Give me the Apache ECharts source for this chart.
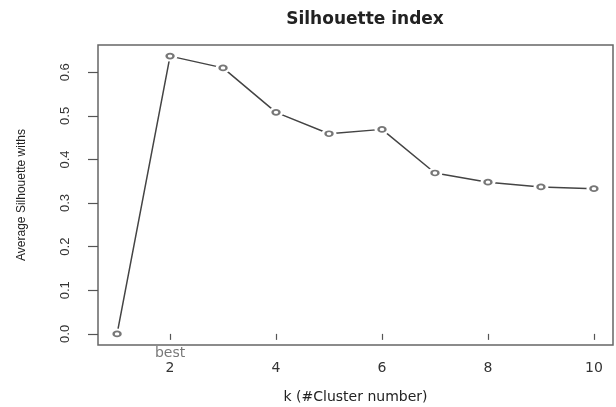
<!DOCTYPE html>
<html>
<head>
<meta charset="utf-8">
<title>Silhouette index</title>
<script src="https://cdn.jsdelivr.net/npm/echarts@6/dist/echarts.min.js"></script>
<style>
  html, body { margin: 0; padding: 0; background: #fff; }
  #chart { width: 616px; height: 407px; }
</style>
</head>
<body>
<div id="chart"></div>
<script>
// k values and average silhouette widths
var kValues = [1, 2, 3, 4, 5, 6, 7, 8, 9, 10]
var silhouette = [0.0, 0.637, 0.610, 0.508, 0.459, 0.469, 0.369, 0.348, 0.337, 0.333]
var xTicks = [2, 4, 6, 8, 10]
var yTicks = [0, 0.1, 0.2, 0.3, 0.4, 0.5, 0.6]
var bestK = 2

// R style axis range: data range + 4% on both sides
var xMin = 0.64, xMax = 10.36
var yMin = -0.0255, yMax = 0.6625

var points = kValues.map(function (k, i) { return [k, silhouette[i]] })

var chart = echarts.init(document.getElementById('chart'), null, { renderer: 'canvas' })

chart.setOption({
  animation: false,
  backgroundColor: '#fff',
  title: {
    text: 'Silhouette index',
    left: 360,
    top: 6,
    textAlign: 'center',
    textStyle: { fontFamily: 'DejaVu Sans', fontWeight: 'bold', fontSize: 17, color: '#222' },
  },
  grid: {
    left: 98,
    right: 3,
    top: 45,
    bottom: 62,
    show: true,
    borderColor: '#666',
    borderWidth: 1.5,
    containLabel: false,
    outerBoundsMode: 'none',
  },
  xAxis: {
    type: 'value',
    min: xMin,
    max: xMax,
    name: 'k (#Cluster number)',
    nameLocation: 'middle',
    nameGap: 45,
    nameTextStyle: { fontFamily: 'DejaVu Sans', fontSize: 14, color: '#222' },
    axisLine: { show: false },
    splitLine: { show: false },
    axisTick: { show: true, length: 6, customValues: xTicks, lineStyle: { color: '#555', width: 1.2 } },
    axisLabel: {
      customValues: xTicks,
      margin: 16,
      fontFamily: 'DejaVu Sans',
      fontSize: 14,
      color: '#333',
    },
  },
  yAxis: {
    type: 'value',
    min: yMin,
    max: yMax,
    name: 'Average Silhouette withs',
    nameLocation: 'middle',
    nameRotate: 90,
    nameGap: 70,
    nameTextStyle: { fontFamily: 'Liberation Sans', fontSize: 12, color: '#222' },
    axisLine: { show: false },
    splitLine: { show: false },
    axisTick: { show: true, length: 10, customValues: yTicks, lineStyle: { color: '#555', width: 1.2 } },
    axisLabel: {
      customValues: yTicks,
      rotate: 90,
      margin: 26,
      fontFamily: 'Liberation Sans',
      fontSize: 13,
      color: '#333',
      formatter: function (v) { return v.toFixed(1) },
    },
  },
  series: [{
    // line with white blobs at the points, so the line stops short of the circles (type = "b")
    type: 'line',
    data: points,
    symbol: 'circle',
    symbolSize: [15, 11],
    itemStyle: { color: '#fff', borderWidth: 0 },
    lineStyle: { color: '#444', width: 1.5 },
    z: 2,
  }, {
    type: 'scatter',
    data: points,
    symbol: 'emptyCircle',
    symbolSize: [7, 5],
    itemStyle: { color: '#555', borderWidth: 1.2 },
    z: 3,
  }, {
    // "best" marker under the chosen k
    type: 'scatter',
    data: [[bestK, yMin]],
    symbolSize: 0,
    clip: false,
    silent: true,
    label: {
      show: true,
      position: 'bottom',
      distance: 1,
      formatter: 'best',
      fontFamily: 'DejaVu Sans',
      fontSize: 14,
      color: '#555',
    },
    z: 4,
  }],
})
</script>
</body>
</html>
